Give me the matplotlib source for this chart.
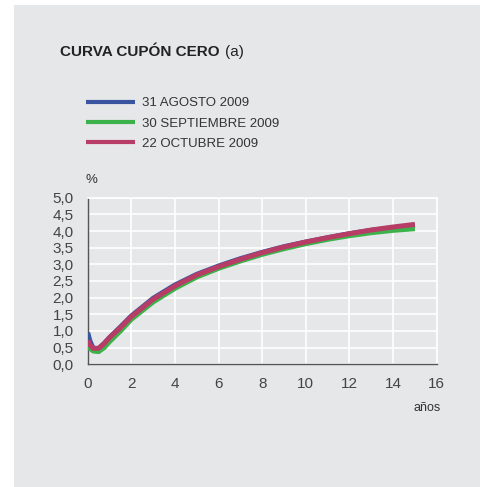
import matplotlib.pyplot as plt
from matplotlib.patches import Rectangle

plt.rcParams['font.family'] = ['Liberation Sans', 'DejaVu Sans']

# plazos (años)
plazos = [0, 0.1, 0.25, 0.5, 0.75, 1, 1.5, 2, 3, 4, 5, 6, 7, 8, 9, 10, 11, 12, 13, 14, 15]

# curvas cupón cero (%)
agosto = [0.95, 0.70, 0.48, 0.47, 0.62, 0.80, 1.12, 1.45, 1.98, 2.38, 2.70, 2.95,
          3.17, 3.36, 3.53, 3.67, 3.80, 3.92, 4.02, 4.10, 4.16]
septiembre = [0.55, 0.48, 0.40, 0.38, 0.50, 0.68, 1.00, 1.35, 1.87, 2.28, 2.62, 2.88,
              3.10, 3.30, 3.47, 3.62, 3.75, 3.86, 3.95, 4.02, 4.07]
octubre = [0.72, 0.58, 0.48, 0.48, 0.62, 0.80, 1.10, 1.43, 1.95, 2.35, 2.68, 2.93,
           3.15, 3.35, 3.52, 3.67, 3.80, 3.92, 4.03, 4.12, 4.20]

series = ['31 AGOSTO 2009', '30 SEPTIEMBRE 2009', '22 OCTUBRE 2009']
colores = ['#3a55a0', '#3cb34a', '#b73c66']

xticks = [0, 2, 4, 6, 8, 10, 12, 14, 16]
yticks = [0, 0.5, 1, 1.5, 2, 2.5, 3, 3.5, 4, 4.5, 5]

W, H = 480, 487
fig = plt.figure(figsize=(W / 100, H / 100), dpi=100)
fig.patch.set_facecolor('white')
bg = '#e6e7e8'
# recuadro gris de fondo
fig.patches.append(Rectangle((14 / W, 0), 1, 1 - 5 / H, transform=fig.transFigure,
                             facecolor=bg, edgecolor='none', zorder=-10))

ax = fig.add_axes([87.7 / W, 1 - 364.3 / H, (436.7 - 87.7) / W, (364.3 - 197.7) / H])
ax.set_facecolor(bg)

lines = []
for ys, c, lab in zip([agosto, septiembre, octubre], colores, series):
    l, = ax.plot(plazos, ys, color=c, lw=3.6, label=lab, solid_capstyle='butt', zorder=3)
    lines.append(l)

ax.set_xlim(0, 16)
ax.set_ylim(0, 5)
ax.set_xticks(xticks)
ax.set_yticks(yticks)
ax.set_xticklabels([str(t) for t in xticks])
ax.set_yticklabels([f'{t:.1f}'.replace('.', ',') for t in yticks])
ax.grid(True, color='white', lw=1.2)
ax.set_axisbelow(True)
ax.tick_params(length=0, labelsize=11, labelcolor='#444444')
ax.tick_params(axis='y', pad=10)
ax.tick_params(axis='x', pad=9)
for s in ['top', 'right']:
    ax.spines[s].set_color('white')
    ax.spines[s].set_linewidth(1.2)
for s in ['left', 'bottom']:
    ax.spines[s].set_color('#555555')
    ax.spines[s].set_linewidth(1.0)

titulo = fig.text(60 / W, 1 - 52 / H, 'CURVA CUPÓN CERO', fontsize=11, fontweight='bold',
                  color='#222222', va='center', ha='left')
ax.annotate('(a)', xy=(1, 0.5), xycoords=titulo, xytext=(4, 0), textcoords='offset points',
            fontsize=11, color='#222222', va='center', ha='left', annotation_clip=False)

leg = fig.legend(handles=lines, loc='upper left', bbox_to_anchor=(86 / W, 1 - 97 / H),
                 frameon=False, fontsize=9.5, handlelength=3.7, handletextpad=0.55,
                 labelspacing=0.62, borderpad=0, borderaxespad=0)
for t in leg.get_texts():
    t.set_color('#333333')
for h in leg.legend_handles:
    h.set_linewidth(3.0)

fig.text(86 / W, 1 - 180 / H, '%', fontsize=9.5, color='#333333', va='center', ha='left')
fig.text(427 / W, 1 - 408 / H, 'años', fontsize=9, color='#333333', va='center', ha='center')

fig.savefig('out.png', dpi=100)
